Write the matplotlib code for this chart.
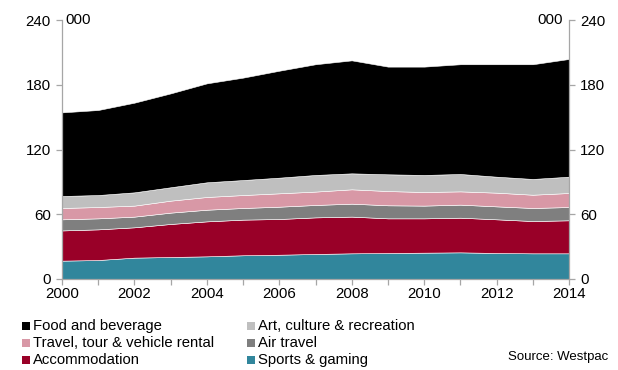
import numpy as np
import matplotlib
matplotlib.use('Agg')
import matplotlib.pyplot as plt
from matplotlib.patches import Rectangle

plt.rcParams['font.family'] = ['Liberation Sans', 'DejaVu Sans']

years = list(range(2000, 2015))
# employment by industry, thousands (stacked bottom to top)
sports_gaming = [17.0, 17.6, 19.8, 20.4, 21.0, 22.0, 22.5, 23.2, 23.8, 24.1, 24.4, 24.7, 24.1, 23.8, 23.8]
accommodation = [28.0, 28.4, 28.1, 30.6, 32.4, 33.0, 33.1, 33.9, 34.0, 32.1, 31.8, 32.1, 31.2, 29.9, 30.6]
air_travel = [10.3, 10.2, 9.9, 10.5, 10.8, 10.8, 11.4, 11.5, 12.0, 12.1, 11.8, 12.1, 12.0, 12.1, 12.3]
travel_tour = [10.5, 10.5, 10.2, 11.1, 11.8, 12.0, 12.4, 12.4, 13.3, 13.2, 12.6, 12.3, 12.7, 12.3, 13.0]
art_culture = [11.1, 11.1, 12.3, 12.4, 13.6, 13.9, 14.5, 15.4, 14.8, 15.5, 15.8, 16.1, 14.8, 14.6, 15.1]
food_beverage = [77.5, 78.8, 83.1, 87.0, 91.7, 94.9, 99.1, 102.6, 104.7, 99.8, 100.4, 101.7, 104.2, 106.3, 109.1]

labels = ['Sports & gaming', 'Accommodation', 'Air travel',
          'Travel, tour & vehicle rental', 'Art, culture & recreation', 'Food and beverage']
colors = ['#31869c', '#990028', '#7f7f7f', '#d898a6', '#bfbfbf', '#000000']

W, H = 618, 370
fig = plt.figure(figsize=(W / 100, H / 100), dpi=100)
ax = fig.add_axes([62 / W, 1 - 279 / H, 507 / W, 259 / H])

ax.stackplot(years, sports_gaming, accommodation, air_travel, travel_tour,
             art_culture, food_beverage, colors=colors,
             edgecolor='white', linewidth=0.4)

ax.set_xlim(2000, 2014)
ax.set_ylim(0, 240)
ax.set_yticks([0, 60, 120, 180, 240])
ax.set_xticks(range(2000, 2015, 2))
ax.set_xticks(range(2000, 2015), minor=True)

ax.spines['top'].set_visible(False)
for side in ['left', 'right', 'bottom']:
    ax.spines[side].set_color('#a6a6a6')
    ax.spines[side].set_linewidth(0.9)

ax.tick_params(axis='both', which='both', direction='out', color='#a6a6a6',
               labelsize=10.8, width=0.9)
ax.tick_params(axis='y', length=4, pad=4, left=True, right=True,
               labelleft=True, labelright=True)
ax.tick_params(axis='x', which='major', length=4, pad=2)
ax.tick_params(axis='x', which='minor', length=4)

ax.text(0.006, 1.0, '000', transform=ax.transAxes, ha='left', va='center', fontsize=10.8)
ax.text(0.988, 1.0, '000', transform=ax.transAxes, ha='right', va='center', fontsize=10.8)

# legend drawn by hand: two columns, three rows
legend_rows = [('Food and beverage', 5, 0, 0), ('Art, culture & recreation', 4, 1, 0),
               ('Travel, tour & vehicle rental', 3, 0, 1), ('Air travel', 2, 1, 1),
               ('Accommodation', 1, 0, 2), ('Sports & gaming', 0, 1, 2)]
col_x = [22, 247]
row_y = [326, 343, 360]
box = 8
for text, ci, col, row in legend_rows:
    x0, yc = col_x[col], row_y[row]
    fig.patches.append(Rectangle((x0 / W, 1 - (yc + box / 2) / H), box / W, box / H,
                                 transform=fig.transFigure, facecolor=colors[ci],
                                 edgecolor='none'))
    fig.text((x0 + box + 3) / W, 1 - yc / H, text, ha='left', va='center', fontsize=10.7)

fig.text(608 / W, 1 - 357 / H, 'Source: Westpac', ha='right', va='center', fontsize=9.5)

fig.savefig('out.png', dpi=100)
